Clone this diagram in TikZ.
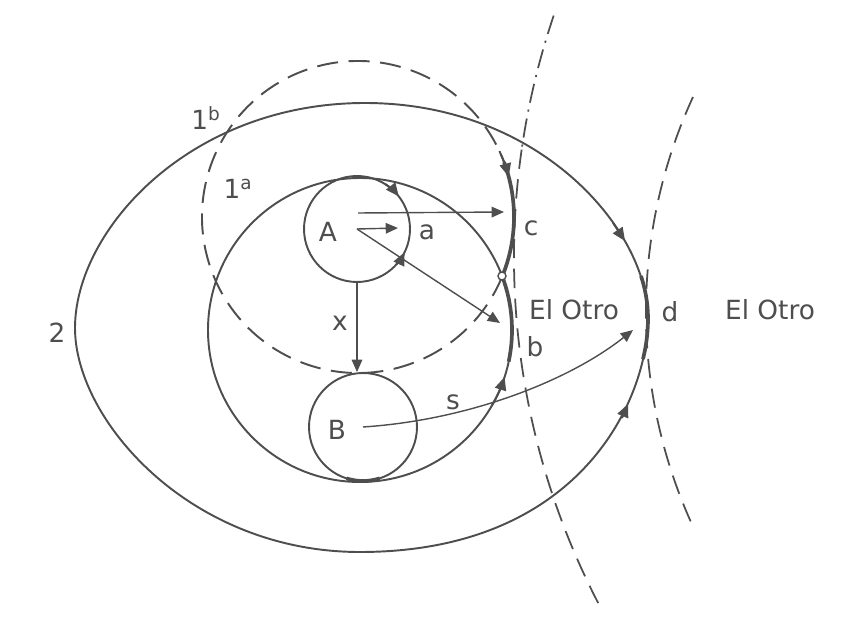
\documentclass[tikz,border=0pt]{standalone}
\usepackage{fontspec}
\setmainfont{DejaVu Sans}
\usetikzlibrary{arrows.meta, positioning, calc}
\definecolor{ink}{RGB}{78,78,78}

\begin{document}
\begin{tikzpicture}[x=0.02cm, y=-0.02cm,
  ring/.style    ={draw=ink, line width=1.1pt},
  heavy/.style   ={draw=ink, line width=2.1pt},
  dashed1b/.style={draw=ink, line width=1.1pt, dash pattern=on 12pt off 6pt},
  otro/.style    ={draw=ink, line width=1pt, dash pattern=on 11pt off 6pt},
  otrodot/.style ={draw=ink, line width=1pt, dash pattern=on 11pt off 4pt on 1.2pt off 4pt},
  ball/.style    ={draw=ink, line width=1.1pt, circle, inner sep=0pt},
  arr/.style     ={-{Triangle[length=7pt,width=6pt]}, draw=ink, line width=0.8pt},
  tip/.style     ={-{Triangle[length=7.5pt,width=6.5pt]}, draw=ink, line width=1.1pt},
  lbl/.style     ={text=ink, font=\fontsize{15}{18}\selectfont, inner sep=1pt},
]
\useasboundingbox (0,0) rectangle (849,618);

%% ---- centres and arrow ends ----
\coordinate (o1a) at (360,330);
\coordinate (o1b) at (358,217);
\coordinate (toc) at (504,212);
\coordinate (toa) at (398,228);
\coordinate (tob) at (500,323);
\coordinate (tod) at (633,330);
\coordinate (e1top) at (553.7,15.6);
\coordinate (e2top) at (693,97);

%% ---- El Otro boundaries ----
\draw[otrodot] (e1top) arc[start angle=198.7, end angle=188.2, radius=753] coordinate (e1mid);
\draw[otro] (e1mid) arc[start angle=188.2, end angle=152.5, radius=753];
\draw[otro] (e2top) arc[start angle=204.7, end angle=154.9, radius=514];

%% ---- region 2 ----
\draw[ring] (75,328) .. controls (75,230) and (190,103) .. (365,103)
  .. controls (540,103) and (648,230) .. (648,318)
  .. controls (648,400) and (580,552) .. (360,552)
  .. controls (190,552) and (75,420) .. cycle;
\draw[heavy] (641,276) .. controls (645,288) and (648,303) .. (648,318)
  .. controls (648,333) and (646,347) .. (643,359);
\draw[tip] (613,223) -- (625,241);
\draw[tip] (622,418) -- (628,404);

%% ---- regions 1a and 1b ----
\draw[ring] (o1a) circle[radius=152];
\draw[dashed1b] (o1b) ++(22.6:156) arc[start angle=22.6, end angle=339.4, radius=156];
\draw[heavy] (o1b) ++(-20.6:156) arc[start angle=-20.6, end angle=22.6, radius=156];
\draw[heavy] (o1a) ++(-20.5:152) arc[start angle=-20.5, end angle=12, radius=152];
\draw[tip] (o1b) ++(-25:156) arc[start angle=-25, end angle=-15, radius=156];
\draw[tip] (o1a) ++(30:152) arc[start angle=30, end angle=18, radius=152];
\node[draw=ink, fill=white, circle, inner sep=0pt, minimum size=0.16cm,
      line width=0.8pt] (meet) at (502,276) {};

%% ---- A and B ----
\node[ball, minimum size=2.12cm] (A) at (357,229) {};
\node[ball, minimum size=2.16cm] (B) at (363,427) {};
\draw[tip] (A.center) ++(-58:53) arc[start angle=-58, end angle=-38, radius=53];
\draw[tip] (A.center) ++(42:53) arc[start angle=42, end angle=26, radius=53];
\draw[heavy] (B.center) ++(72:54) arc[start angle=72, end angle=108, radius=54];

%% ---- arrows ----
\draw[arr] ($(A.center)+(1,-16)$) -- (toc);
\draw[arr] (A.center) -- (toa);
\draw[arr] (A.center) -- (tob);
\draw[arr] (A.south) -- (A.south |- B.north);
\draw[arr] (B.center) .. controls (470,420) and (570,380) .. (tod);

%% ---- labels ----
\node[lbl] (labA)  at (328,232) {A};
\node[lbl] (labB)  at (337,430) {B};
\node[lbl] (laba)  at (427,232) {a};
\node[lbl] (labc)  at (531,228) {c};
\node[lbl] (labx)  at (340,323) {x};
\node[lbl] (labs)  at (453,402) {s};
\node[lbl] (labb)  at (535,347) {b};
\node[lbl] (labd)  at (670,312) {d};
\node[lbl] (lab2)  at (57,333)  {2};
\node[lbl] (lab1b) at (206,118) {1\textsuperscript{b}};
\node[lbl] (lab1a) at (238,189) {1\textsuperscript{a}};
\node[lbl] (otro1) at (574,310) {El Otro};
\node[lbl] (otro2) at (770,310) {El Otro};

\end{tikzpicture}
\end{document}
